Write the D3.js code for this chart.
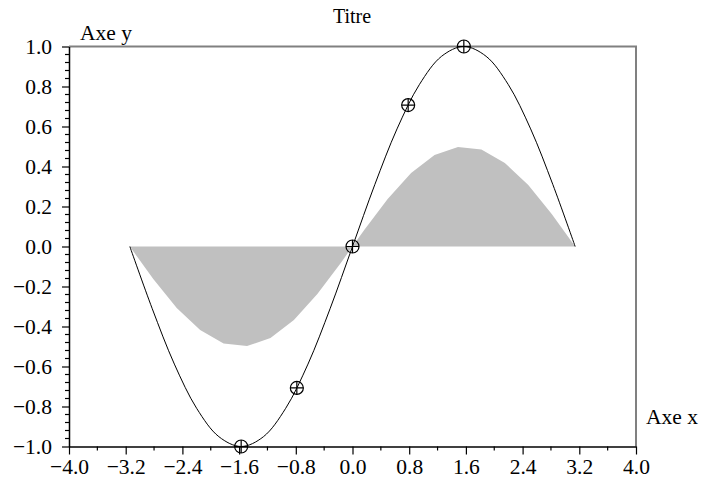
<!DOCTYPE html>
<html><head><meta charset="utf-8">
<script src="https://cdn.jsdelivr.net/npm/d3@7"></script>
<style>html,body{margin:0;padding:0;background:#fff}svg{display:block}</style>
</head><body>
<script>
// Sine curve samples (x, y)
const curveX = [-3.1416,-2.8274,-2.5133,-2.1991,-1.8850,-1.5708,-1.2566,-0.9425,-0.6283,-0.3142,0,0.3142,0.6283,0.9425,1.2566,1.5708,1.8850,2.1991,2.5133,2.8274,3.1416];
const curveY = [0,-0.309,-0.588,-0.809,-0.951,-1.0,-0.951,-0.809,-0.588,-0.309,0,0.309,0.588,0.809,0.951,1.0,0.951,0.809,0.588,0.309,0];
// Grey filled polygon (x, y)
const fillX = [-3.1416,-2.8109,-2.4802,-2.1495,-1.8188,-1.4881,-1.1574,-0.8267,-0.4960,-0.1653,0.1653,0.4960,0.8267,1.1574,1.4881,1.8188,2.1495,2.4802,2.8109,3.1416];
const fillY = [0,-0.163,-0.307,-0.418,-0.485,-0.498,-0.458,-0.368,-0.238,-0.082,0.082,0.238,0.368,0.458,0.498,0.485,0.418,0.307,0.163,0];
// Markers
const markX = [-1.5708,-0.7854,0,0.7854,1.5708];
const markY = [-1.0,-0.707,0,0.707,1.0];
// Ticks
const xTicks = [-4.0,-3.2,-2.4,-1.6,-0.8,0.0,0.8,1.6,2.4,3.2,4.0];
const yTicks = [-1.0,-0.8,-0.6,-0.4,-0.2,0.0,0.2,0.4,0.6,0.8,1.0];
const xMinor = [-3.6,-2.8,-2.0,-1.2,-0.4,0.4,1.2,2.0,2.8,3.6];
const yMinor = [];
for (let i = 0; i < yTicks.length - 1; i++) for (let k = 1; k < 5; k++) yMinor.push(yTicks[i] + k * 0.04);

const W = 702, H = 484;
const L = 69, R = 636, T = 46.5, B = 446.5;
const font = "'Liberation Serif','Times New Roman',serif";
const fs = 21.5;

const svg = d3.select("body").append("svg").attr("width", W).attr("height", H);
const x = d3.scaleLinear().domain([-4, 4]).range([L, R]);
const y = d3.scaleLinear().domain([-1, 1]).range([B, T]);

// fill
const fillPts = fillX.map((v, i) => [x(v), y(fillY[i])]);
svg.append("path").attr("d", "M" + fillPts.join("L") + "Z")
  .attr("fill", "#c0c0c0").attr("stroke", "none");

// frame top/right
svg.append("path").attr("d", `M${L},${T}H${R}V${B}`)
  .attr("fill", "none").attr("stroke", "#808080").attr("stroke-width", 2);

// sine curve
const line = d3.line().x(d => x(d[0])).y(d => y(d[1])).curve(d3.curveCatmullRom.alpha(0.5));
svg.append("path").datum(curveX.map((v, i) => [v, curveY[i]]))
  .attr("d", line).attr("fill", "none").attr("stroke", "#000").attr("stroke-width", 1);

// markers
const mk = svg.append("g");
markX.forEach((v, i) => {
  const cx = x(v), cy = y(markY[i]), r = 6.5;
  mk.append("circle").attr("cx", cx).attr("cy", cy).attr("r", r)
    .attr("fill", "none").attr("stroke", "#000").attr("stroke-width", 1.2);
  mk.append("path").attr("d", `M${cx - r},${cy}H${cx + r}M${cx},${cy - r}V${cy + r}`)
    .attr("stroke", "#000").attr("stroke-width", 1.2);
});

// axes
const xAxis = d3.axisBottom(x).tickValues(xTicks).tickFormat(d3.format(".1f")).tickSizeOuter(0).tickSizeInner(8).tickPadding(4);
const gx = svg.append("g").attr("transform", `translate(0,${B})`).call(xAxis);
gx.selectAll(".tick line").attr("stroke-width", 1.2);
gx.select(".domain").attr("stroke-width", 1.5);
gx.selectAll("text").attr("font-family", font).attr("font-size", fs).attr("fill", "#000");
gx.append("g").selectAll("line").data(xMinor).join("line")
  .attr("x1", d => x(d)).attr("x2", d => x(d)).attr("y1", 0).attr("y2", 4)
  .attr("stroke", "#000").attr("stroke-width", 1.2);

const yAxis = d3.axisLeft(y).tickValues(yTicks).tickFormat(d3.format(".1f")).tickSizeOuter(0).tickSizeInner(7).tickPadding(10);
const gy = svg.append("g").attr("transform", `translate(${L},0)`).call(yAxis);
gy.selectAll(".tick line").attr("stroke-width", 1.2);
gy.select(".domain").attr("stroke-width", 1.5);
gy.selectAll("text").attr("font-family", font).attr("font-size", fs).attr("fill", "#000");
gy.append("g").selectAll("line").data(yMinor).join("line")
  .attr("y1", d => y(d)).attr("y2", d => y(d)).attr("x1", 0).attr("x2", -4)
  .attr("stroke", "#000").attr("stroke-width", 1.2);

// titles
svg.append("text").attr("x", 352).attr("y", 23).attr("text-anchor", "middle")
  .attr("font-family", font).attr("font-size", 20).text("Titre");
svg.append("text").attr("x", 80).attr("y", 40)
  .attr("font-family", font).attr("font-size", fs).text("Axe y");
svg.append("text").attr("x", 646).attr("y", 424)
  .attr("font-family", font).attr("font-size", fs).text("Axe x");
</script>
</body></html>
